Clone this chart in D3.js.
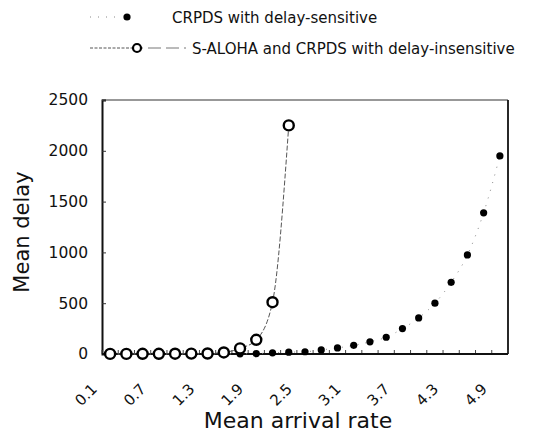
<!DOCTYPE html>
<html>
<head>
<meta charset="utf-8">
<script src="https://cdn.jsdelivr.net/npm/d3@7/dist/d3.min.js"></script>
<style>
  html, body { margin: 0; padding: 0; background: #fff; }
  svg { display: block; }
  text { font-family: "DejaVu Sans", sans-serif; fill: #111; }
</style>
</head>
<body>
<svg id="chart" width="534" height="435"></svg>
<script>
// ---- data ----
const categories = ["0.1","0.3","0.5","0.7","0.9","1.1","1.3","1.5","1.7","1.9","2.1","2.3","2.5",
                    "2.7","2.9","3.1","3.3","3.5","3.7","3.9","4.1","4.3","4.5","4.7","4.9"];
const tickLabels = ["0.1","0.7","1.3","1.9","2.5","3.1","3.7","4.3","4.9"];
const yTicks = [0, 500, 1000, 1500, 2000, 2500];
const sensitiveValues = [0,0,0,0,0,0,1,1,2,4,12,18,22,40,60,85,120,165,250,355,500,705,975,1390,1950];
const alohaCats = ["0.1","0.3","0.5","0.7","0.9","1.1","1.3","1.5","1.7","1.9","2.1","2.3"];
const alohaValues = [1,1,2,2,3,4,5,15,55,140,510,2250];
const seriesNames = ["CRPDS with delay-sensitive", "S-ALOHA and CRPDS with delay-insensitive"];

const svg = d3.select("#chart");
const L = 102, R = 508, T = 100, B = 354;

const x = d3.scaleBand().domain(categories).range([L, R]).padding(0);
const cx = c => x(c) + x.bandwidth() / 2;
const y = d3.scaleLinear().domain([0, 2500]).range([B, T]);

// plot frame
svg.append("line").attr("x1", L).attr("x2", R).attr("y1", T).attr("y2", T)
  .attr("stroke", "#333").attr("stroke-width", 1.2);
svg.append("line").attr("x1", R).attr("x2", R).attr("y1", T).attr("y2", B)
  .attr("stroke", "#111").attr("stroke-width", 1.8);

// y axis
const yAxis = d3.axisLeft(y).tickValues(yTicks).tickSize(-4).tickPadding(14).tickFormat(d3.format("d"));
const gy = svg.append("g").attr("transform", `translate(${L},0)`).call(yAxis);
gy.select(".domain").attr("stroke", "#111").attr("stroke-width", 2);
gy.selectAll(".tick line").attr("stroke", "#333");
gy.selectAll(".tick text").attr("font-size", 15.5).attr("font-family", "DejaVu Sans").attr("fill", "#111");

// x axis (category boundaries as inward ticks)
const bounds = categories.map(c => x(c)).concat([R]);
const gx = svg.append("g");
gx.selectAll("line.tk").data(bounds).join("line")
  .attr("x1", d => d).attr("x2", d => d).attr("y1", B).attr("y2", B - 4)
  .attr("stroke", "#444").attr("stroke-width", 1);
gx.append("line").attr("x1", L).attr("x2", R).attr("y1", B).attr("y2", B)
  .attr("stroke", "#111").attr("stroke-width", 2);
gx.selectAll("text").data(tickLabels).join("text")
  .attr("transform", d => `translate(${cx(d) - 12},${390}) rotate(-45)`)
  .attr("text-anchor", "end")
  .attr("font-size", 15)
  .text(d => d);

// series lines
const sensData = categories.map((c, i) => ({c, v: sensitiveValues[i]}));
const alohaData = alohaCats.map((c, i) => ({c, v: alohaValues[i]}));
const line = d3.line().x(d => cx(d.c)).y(d => y(d.v)).curve(d3.curveMonotoneX);

svg.append("path").datum(sensData).attr("d", line)
  .attr("fill", "none").attr("stroke", "#888").attr("stroke-width", 1)
  .attr("stroke-dasharray", "1,7");
svg.append("path").datum(alohaData).attr("d", line)
  .attr("fill", "none").attr("stroke", "#555").attr("stroke-width", 1)
  .attr("stroke-dasharray", "5,2");

// markers
svg.selectAll("circle.dot").data(sensData).join("circle")
  .attr("class", "dot").attr("cx", d => cx(d.c)).attr("cy", d => y(d.v))
  .attr("r", 3.6).attr("fill", "#000");
svg.selectAll("circle.ring").data(alohaData).join("circle")
  .attr("class", "ring").attr("cx", d => cx(d.c)).attr("cy", d => y(d.v))
  .attr("r", 5).attr("fill", "#fff").attr("stroke", "#000").attr("stroke-width", 2.4);

// axis titles
svg.append("text").attr("x", 298).attr("y", 428).attr("text-anchor", "middle")
  .attr("font-size", 22).text("Mean arrival rate");
svg.append("text").attr("transform", "translate(29,232) rotate(-90)").attr("text-anchor", "middle")
  .attr("font-size", 21).text("Mean delay");

// legend
const lg = svg.append("g");
lg.append("line").attr("x1", 90).attr("x2", 122).attr("y1", 17).attr("y2", 17)
  .attr("stroke", "#888").attr("stroke-width", 1).attr("stroke-dasharray", "1,7");
lg.append("circle").attr("cx", 127).attr("cy", 17).attr("r", 3.6).attr("fill", "#000");
lg.append("text").attr("x", 172).attr("y", 23).attr("font-size", 15).text(seriesNames[0]);

lg.append("line").attr("x1", 90).attr("x2", 132).attr("y1", 48).attr("y2", 48)
  .attr("stroke", "#555").attr("stroke-width", 1).attr("stroke-dasharray", "3,1.5");
lg.append("line").attr("x1", 142).attr("x2", 186).attr("y1", 48).attr("y2", 48)
  .attr("stroke", "#777").attr("stroke-width", 1).attr("stroke-dasharray", "1,5,12,0");
lg.append("circle").attr("cx", 137).attr("cy", 48).attr("r", 4).attr("fill", "#fff")
  .attr("stroke", "#000").attr("stroke-width", 2.2);
lg.append("text").attr("x", 192).attr("y", 54).attr("font-size", 15).text(seriesNames[1]);
</script>
</body>
</html>
